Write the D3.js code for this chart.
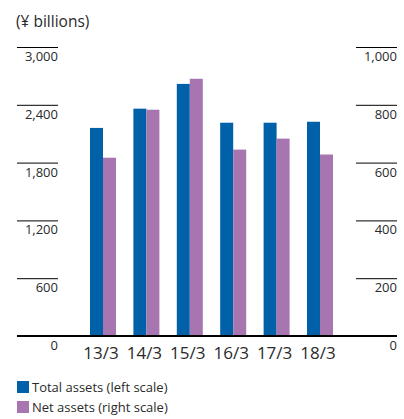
<!DOCTYPE html>
<html>
<head>
<meta charset="utf-8">
<script src="https://cdn.jsdelivr.net/npm/d3@7"></script>
<style>
  html, body { margin: 0; padding: 0; background: #fff; }
  svg { display: block; font-family: "Open Sans", "Noto Sans", sans-serif; }
</style>
</head>
<body>
<svg id="chart" width="404" height="419"></svg>
<script>
// Fiscal years (year/month of fiscal year end)
const categories = ["13/3", "14/3", "15/3", "16/3", "17/3", "18/3"];
// Total assets, ¥ billions (left scale)
const totalAssets = [2160, 2360, 2617, 2214, 2214, 2224];
// Net assets, ¥ billions (right scale)
const netAssets = [617, 783, 890, 645, 683, 628];
const leftTicks = [600, 1200, 1800, 2400, 3000];
const rightTicks = [200, 400, 600, 800, 1000];
const unitLabel = "(¥ billions)";
const legendLabels = ["Total assets (left scale)", "Net assets (right scale)"];

const colors = { total: "#0061a8", net: "#a776b1", text: "#2a2a2a" };

const svg = d3.select("#chart");

const baseY = 336, topY = 47;
const yLeft = d3.scaleLinear().domain([0, 3000]).range([baseY, topY]);
const yRight = d3.scaleLinear().domain([0, 1000]).range([baseY, topY]);
const x = d3.scalePoint().domain(categories).range([103, 320]);
const barW = 13;

// unit label
svg.append("text")
  .attr("x", 16).attr("y", 27)
  .attr("font-size", 15.5).attr("fill", colors.text)
  .text(unitLabel);

// left axis ticks: short rule with value below it
const leftAxis = svg.append("g");
leftAxis.selectAll("line").data(leftTicks).join("line")
  .attr("x1", 17).attr("x2", 58)
  .attr("y1", d => yLeft(d) + 0.5).attr("y2", d => yLeft(d) + 0.5)
  .attr("stroke", "#000").attr("stroke-width", 1);
leftAxis.selectAll("text").data([0, ...leftTicks]).join("text")
  .attr("x", 58).attr("y", d => yLeft(d) + 14)
  .attr("text-anchor", "end").attr("font-size", 13).attr("fill", colors.text)
  .text(d => d3.format(",")(d));

// right axis ticks
const rightAxis = svg.append("g");
rightAxis.selectAll("line").data(rightTicks).join("line")
  .attr("x1", 356).attr("x2", 397)
  .attr("y1", d => yRight(d) + 0.5).attr("y2", d => yRight(d) + 0.5)
  .attr("stroke", "#000").attr("stroke-width", 1);
rightAxis.selectAll("text").data([0, ...rightTicks]).join("text")
  .attr("x", 397).attr("y", d => yRight(d) + 14)
  .attr("text-anchor", "end").attr("font-size", 13).attr("fill", colors.text)
  .text(d => d3.format(",")(d));

// bars
const bars = svg.append("g");
bars.selectAll("rect.total").data(categories).join("rect")
  .attr("class", "total")
  .attr("x", d => x(d) - barW)
  .attr("y", (d, i) => yLeft(totalAssets[i]))
  .attr("width", barW)
  .attr("height", (d, i) => baseY - yLeft(totalAssets[i]))
  .attr("fill", colors.total);
bars.selectAll("rect.net").data(categories).join("rect")
  .attr("class", "net")
  .attr("x", d => x(d))
  .attr("y", (d, i) => yRight(netAssets[i]))
  .attr("width", barW)
  .attr("height", (d, i) => baseY - yRight(netAssets[i]))
  .attr("fill", colors.net);

// baseline
svg.append("line")
  .attr("x1", 17).attr("x2", 397)
  .attr("y1", baseY).attr("y2", baseY)
  .attr("stroke", "#000").attr("stroke-width", 2.2);

// category labels
svg.append("g").selectAll("text").data(categories).join("text")
  .attr("x", d => x(d) - 2).attr("y", 359)
  .attr("text-anchor", "middle").attr("font-size", 17).attr("fill", colors.text)
  .text(d => d);

// legend
const legend = svg.append("g");
const legendColors = [colors.total, colors.net];
legend.selectAll("rect").data(legendLabels).join("rect")
  .attr("x", 17).attr("y", (d, i) => 381 + i * 20)
  .attr("width", 12).attr("height", 12)
  .attr("fill", (d, i) => legendColors[i]);
legend.selectAll("text").data(legendLabels).join("text")
  .attr("x", 32).attr("y", (d, i) => 392 + i * 20)
  .attr("font-size", 13).attr("fill", colors.text)
  .text(d => d);
</script>
</body>
</html>
